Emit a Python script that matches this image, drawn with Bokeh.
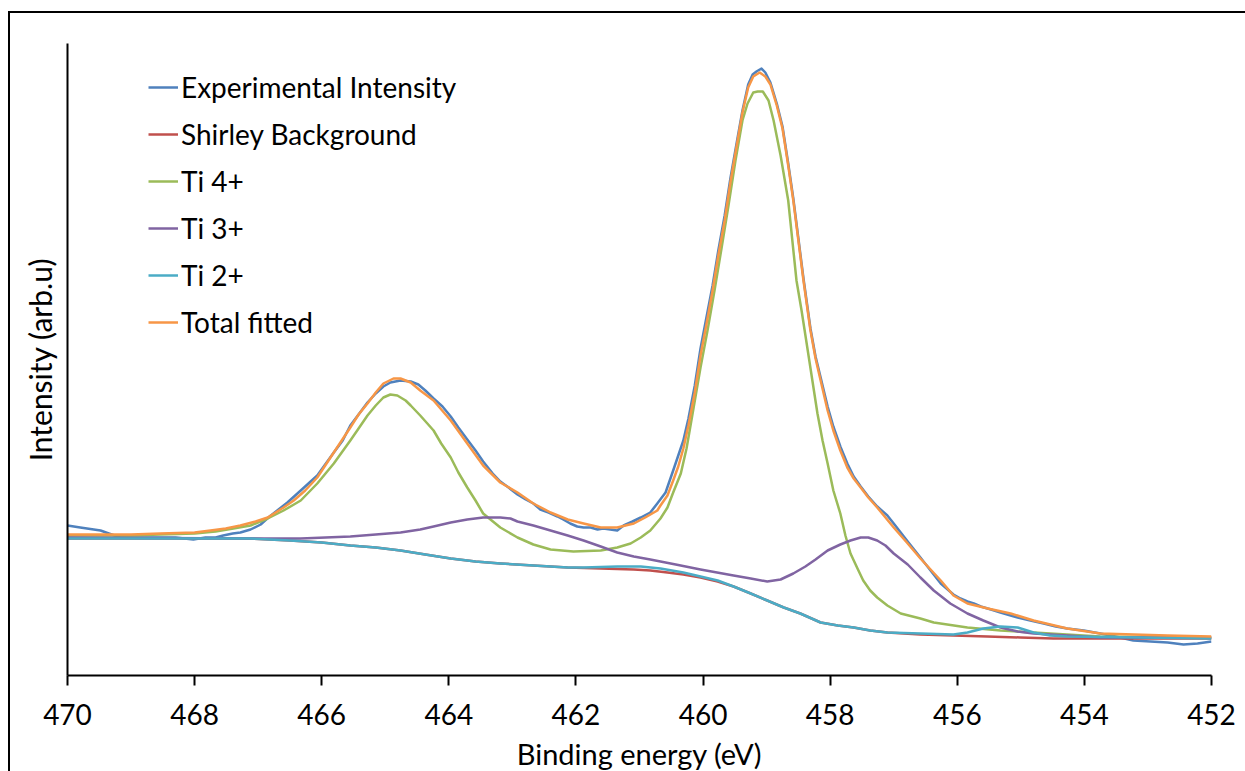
from bokeh.plotting import figure
from bokeh.models import Range1d, FixedTicker, Legend, LegendItem
from bokeh.embed import file_html
from bokeh.resources import INLINE

# Ti 2p XPS spectrum, binding energy (eV) vs intensity (arb. u)

energy_ticks = [470, 468, 466, 464, 462, 460, 458, 456, 454, 452]

exp_energy = [470.0, 469.8, 469.48, 469.35, 469.17, 468.7, 468.3, 468.02, 467.83, 467.67,
              467.55, 467.4, 467.28, 467.12, 466.96, 466.84, 466.7, 466.54, 466.33, 466.07,
              465.81, 465.67, 465.55, 465.42, 465.28, 465.15, 465.03, 464.92, 464.76, 464.6,
              464.48, 464.37, 464.24, 464.1, 463.97, 463.85, 463.71, 463.58, 463.46, 463.31,
              463.19, 463.06, 462.92, 462.79, 462.67, 462.56, 462.43, 462.29, 462.2, 462.09,
              461.98, 461.88, 461.77, 461.66, 461.57, 461.46, 461.35, 461.25, 461.11, 460.98,
              460.83, 460.72, 460.59, 460.47, 460.39, 460.31, 460.23, 460.13, 460.04, 459.95,
              459.85, 459.76, 459.66, 459.57, 459.47, 459.38, 459.29, 459.22, 459.16, 459.08,
              459.02, 458.94, 458.84, 458.75, 458.66, 458.58, 458.5, 458.42, 458.31, 458.23,
              458.15, 458.04, 457.95, 457.84, 457.73, 457.63, 457.52, 457.4, 457.26, 457.1,
              457.0, 456.78, 456.58, 456.42, 456.26, 456.06, 455.95, 455.84, 455.74, 455.63,
              455.47, 455.32, 455.16, 455.05, 454.85, 454.64, 454.45, 454.27, 454.01, 453.75,
              453.51, 453.23, 452.96, 452.69, 452.44, 452.22, 452.0]
exp_intensity = [150, 148, 145, 142, 138, 138, 138, 136, 138, 138,
                 140, 142, 143, 146, 151, 158, 165, 173, 185, 200,
                 223, 235, 250, 261, 273, 282, 289, 293, 295, 294,
                 291, 285, 277, 269, 259, 248, 236, 225, 214, 202,
                 194, 188, 181, 176, 172, 166, 163, 159, 156, 152,
                 149, 148, 148, 146, 147, 146, 145, 150, 154, 158,
                 163, 172, 183, 205, 220, 235, 257, 290, 327, 357,
                 390, 425, 460, 497, 533, 565, 591, 601, 604, 607,
                 603, 593, 572, 549, 512, 477, 437, 397, 347, 319,
                 298, 269, 249, 229, 212, 199, 189, 179, 169, 160,
                 152, 134, 118, 105, 92, 81, 77, 74, 72, 69,
                 66, 63, 60, 58, 55, 52, 49, 47, 45, 42,
                 39, 35, 34, 33, 31, 32, 34]

shirley_energy = [470.0, 468.0, 467.12, 466.5, 466.0, 465.55, 465.15, 464.76, 464.37, 463.97,
                  463.58, 463.19, 462.67, 462.13, 461.61, 461.09, 460.83, 460.56, 460.31, 460.04,
                  459.77, 459.52, 459.25, 458.99, 458.73, 458.47, 458.15, 457.88, 457.63, 457.37,
                  457.1, 456.58, 456.06, 455.53, 455.01, 454.49, 452.0]
shirley_intensity = [137, 137, 137, 135, 133, 130, 128, 125, 121, 117,
                     114, 112, 110, 108, 107, 106, 105, 103, 101, 98,
                     94, 89, 82, 75, 68, 62, 53, 50, 48, 45,
                     43, 41, 40, 39, 38, 37, 37]

ti4_energy = [470.0, 469.0, 468.54, 468.0, 467.67, 467.39, 467.12, 466.85, 466.6, 466.33,
              466.07, 465.81, 465.55, 465.42, 465.28, 465.15, 465.03, 464.92, 464.81, 464.68,
              464.6, 464.45, 464.24, 464.12, 463.97, 463.85, 463.71, 463.58, 463.46, 463.19,
              462.92, 462.67, 462.4, 462.04, 461.61, 461.35, 461.14, 460.98, 460.83, 460.67,
              460.56, 460.47, 460.35, 460.26, 460.17, 460.04, 459.93, 459.82, 459.71, 459.6,
              459.49, 459.38, 459.3, 459.21, 459.14, 459.06, 458.97, 458.89, 458.78, 458.66,
              458.53, 458.45, 458.36, 458.28, 458.2, 458.12, 458.04, 457.95, 457.84, 457.76,
              457.68, 457.57, 457.48, 457.37, 457.26, 457.1, 456.89, 456.58, 456.37, 455.84,
              455.32, 454.8, 453.75, 452.0]
ti4_intensity = [140, 140, 141, 142, 144, 147, 150, 157, 165, 175,
                 192, 212, 235, 247, 260, 270, 278, 281, 280, 275,
                 270, 260, 245, 232, 218, 203, 188, 175, 162, 148,
                 138, 131, 126, 124, 125, 128, 132, 138, 145, 157,
                 168, 183, 202, 227, 260, 308, 345, 385, 427, 470,
                 515, 555, 572, 583, 584, 584, 575, 555, 520, 475,
                 395, 365, 328, 295, 262, 235, 212, 185, 162, 140,
                 122, 107, 95, 85, 78, 70, 62, 57, 53, 48,
                 45, 43, 39, 38]

ti3_energy = [470.0, 467.12, 466.33, 465.55, 465.15, 464.76, 464.45, 464.24, 463.97, 463.71,
              463.46, 463.19, 463.03, 462.92, 462.67, 462.4, 462.13, 461.88, 461.61, 461.35,
              461.09, 460.83, 460.43, 460.04, 459.52, 459.25, 458.99, 458.78, 458.58, 458.39,
              458.23, 458.04, 457.84, 457.68, 457.52, 457.4, 457.26, 457.13, 457.0, 456.78,
              456.58, 456.37, 456.11, 455.84, 455.59, 455.32, 455.05, 454.8, 454.27, 453.75,
              452.0]
ti3_intensity = [138, 137, 137, 139, 141, 143, 146, 149, 153, 156,
                 158, 158, 157, 154, 150, 145, 140, 135, 129, 123,
                 119, 116, 111, 106, 100, 97, 94, 96, 102, 109,
                 116, 125, 131, 135, 138, 138, 135, 130, 122, 111,
                 98, 85, 72, 62, 55, 48, 44, 42, 40, 38,
                 38]

ti2_energy = [470.0, 468.0, 467.12, 466.5, 466.0, 465.55, 465.15, 464.76, 464.37, 463.97,
              463.58, 463.19, 462.67, 462.13, 461.88, 461.35, 460.98, 460.67, 460.31, 460.04,
              459.77, 459.52, 459.25, 458.99, 458.73, 458.47, 458.15, 457.88, 457.63, 457.37,
              457.1, 456.58, 456.06, 455.84, 455.59, 455.32, 455.05, 454.8, 454.54, 454.27,
              452.0]
ti2_intensity = [137, 137, 137, 135, 133, 130, 128, 125, 121, 117,
                 114, 112, 110, 108, 108, 109, 109, 107, 103, 99,
                 95, 89, 82, 75, 68, 62, 53, 50, 48, 45,
                 43, 42, 41, 43, 47, 49, 48, 43, 40, 39,
                 37]

fit_energy = [470.0, 469.0, 468.54, 468.0, 467.75, 467.51, 467.28, 467.04, 466.85, 466.6,
              466.44, 466.26, 466.07, 465.81, 465.55, 465.42, 465.28, 465.15, 465.03, 464.87,
              464.76, 464.6, 464.45, 464.24, 463.97, 463.71, 463.46, 463.19, 462.92, 462.67,
              462.4, 462.13, 461.88, 461.61, 461.35, 461.09, 460.91, 460.72, 460.67, 460.56,
              460.47, 460.39, 460.31, 460.23, 460.13, 460.04, 459.95, 459.85, 459.76, 459.66,
              459.57, 459.47, 459.38, 459.29, 459.21, 459.11, 459.02, 458.94, 458.84, 458.75,
              458.66, 458.58, 458.5, 458.42, 458.31, 458.23, 458.15, 458.04, 457.95, 457.84,
              457.73, 457.63, 457.52, 457.4, 457.26, 457.0, 456.78, 456.58, 456.26, 456.06,
              455.84, 455.52, 455.16, 454.8, 454.27, 453.75, 452.69, 452.0]
fit_intensity = [141, 141, 142, 143, 145, 147, 150, 154, 158, 168,
                 175, 185, 198, 223, 248, 261, 272, 283, 292, 297,
                 297, 293, 285, 275, 255, 232, 210, 193, 183, 172,
                 163, 156, 152, 148, 148, 152, 158, 165, 170, 180,
                 195, 209, 227, 250, 283, 320, 350, 385, 420, 455,
                 493, 530, 563, 588, 599, 603, 599, 591, 570, 547,
                 510, 475, 435, 395, 345, 317, 295, 265, 245, 225,
                 208, 197, 188, 178, 168, 148, 132, 117, 95, 80,
                 72, 67, 62, 55, 47, 42, 40, 39]

series = [
    ("Experimental Intensity", exp_energy, exp_intensity, "#4F81BD"),
    ("Shirley Background", shirley_energy, shirley_intensity, "#C0504D"),
    ("Ti 4+", ti4_energy, ti4_intensity, "#9BBB59"),
    ("Ti 3+", ti3_energy, ti3_intensity, "#8064A2"),
    ("Ti 2+", ti2_energy, ti2_intensity, "#4BACC6"),
    ("Total fitted", fit_energy, fit_intensity, "#F79646"),
]

FONT = "Lato"

p = figure(
    frame_width=1144, frame_height=632,
    min_border_left=57, min_border_right=35, min_border_top=30, min_border_bottom=97,
    x_range=Range1d(470, 452), y_range=Range1d(0, 632),
    output_backend="svg", toolbar_location=None,
    background_fill_color="white", border_fill_color="white",
    margin=(11, 0, 0, 8),
    styles={"border-top": "2.5px solid black", "border-left": "2.5px solid black"},
)
p.outline_line_color = None
p.xgrid.visible = False
p.ygrid.visible = False

items = []
for name, xs, ys, color in series:
    r = p.line(xs, ys, line_color=color, line_width=2.5, line_join="round")
    items.append(LegendItem(label=name, renderers=[r]))

# x axis: binding energy, decreasing to the right
xa = p.xaxis[0]
xa.ticker = FixedTicker(ticks=energy_ticks)
xa.axis_label = "Binding energy (eV)"
xa.axis_line_color = "black"
xa.axis_line_width = 2
xa.major_tick_line_color = "black"
xa.major_tick_line_width = 2
xa.major_tick_out = 10
xa.major_tick_in = 0
xa.minor_tick_line_color = None
xa.major_label_standoff = 18
xa.major_label_text_font = FONT
xa.major_label_text_font_size = "28px"
xa.major_label_text_color = "black"
xa.axis_label_text_font = FONT
xa.axis_label_text_font_size = "29px"
xa.axis_label_text_font_style = "normal"
xa.axis_label_text_color = "black"
xa.axis_label_standoff = 8

# y axis: line only
ya = p.yaxis[0]
ya.ticker = FixedTicker(ticks=[])
ya.axis_label = "Intensity (arb.u)"
ya.axis_line_color = "black"
ya.axis_line_width = 2
ya.major_tick_line_color = None
ya.minor_tick_line_color = None
ya.axis_label_text_font = FONT
ya.axis_label_text_font_size = "30px"
ya.axis_label_text_font_style = "normal"
ya.axis_label_text_color = "black"
ya.axis_label_standoff = 10

legend = Legend(
    items=items, location=(81, 333),
    border_line_color=None, background_fill_alpha=0,
    padding=0, margin=0,
    glyph_width=30, glyph_height=40, label_height=40,
    label_standoff=3, spacing=7,
    label_text_font=FONT, label_text_font_size="28px", label_text_color="black",
)
p.add_layout(legend)

open("out.html", "w").write(file_html(p, INLINE))
